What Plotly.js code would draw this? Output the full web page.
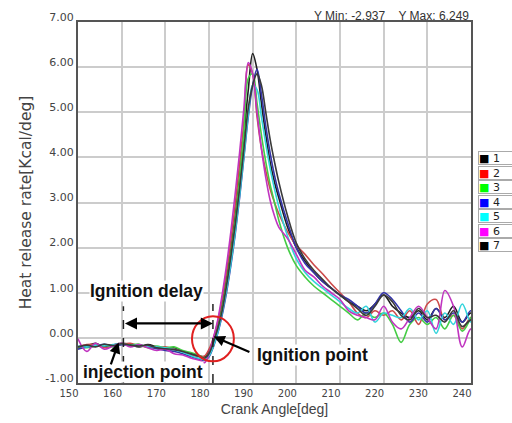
<!DOCTYPE html>
<html>
<head>
<meta charset="utf-8">
<script src="https://cdn.plot.ly/plotly-3.0.1.min.js"></script>
<style>html,body{margin:0;padding:0;background:#fff;}#chart{width:512px;height:423px;}</style>
</head>
<body>
<div id="chart"></div>
<script>
// Crank angle grid (deg)
const crankAngle = [150,152,154,156,158,160,162,164,166,168,170,172,174,176,178,
  179,180,181,182,183,184,185,186,187,188,189,190,191,192,193,194,195,196,
  198,200,202,204,206,208,210,212,214,216,218,220,222,224,226,228,230,232,234,236,238,240,242];

// Heat release rate [Kcal/deg] per run
const hrr1 = [-0.22,-0.18,-0.12,-0.2,-0.16,-0.12,-0.15,-0.2,-0.15,-0.2,-0.25,-0.22,-0.3,-0.35,-0.4,
  -0.42,-0.3,-0.05,0.3,0.75,1.3,1.95,2.7,3.55,4.5,5.5,6.3,5.95,5.2,4.5,3.9,3.45,3.1,
  2.45,2.0,1.7,1.45,1.25,1.1,0.95,0.8,0.7,0.6,0.75,0.95,0.7,0.55,0.45,0.6,0.4,0.65,0.45,0.7,0.35,0.55,0.4];
const hrr2 = [-0.2,-0.15,-0.15,-0.22,-0.18,-0.14,-0.12,-0.18,-0.2,-0.22,-0.2,-0.25,-0.3,-0.38,-0.42,
  -0.4,-0.25,0.0,0.35,0.85,1.45,2.15,2.95,3.85,4.8,6.05,5.85,4.9,4.2,3.7,3.3,3.0,2.75,
  2.35,2.05,1.85,1.62,1.42,1.2,1.0,0.8,0.55,0.45,0.6,0.5,0.6,0.4,0.6,0.3,0.75,0.85,0.4,0.5,0.2,0.45,0.0];
const hrr3 = [-0.2,-0.22,-0.18,-0.15,-0.2,-0.14,-0.16,-0.14,-0.22,-0.18,-0.22,-0.2,-0.28,-0.33,-0.4,
  -0.45,-0.35,-0.1,0.2,0.65,1.2,1.85,2.6,3.5,4.55,5.75,5.85,5.2,4.5,3.9,3.4,3.0,2.6,
  2.0,1.6,1.35,1.15,1.0,0.85,0.7,0.55,0.4,0.55,0.45,0.55,0.3,-0.1,0.3,0.45,0.3,0.45,0.2,0.5,0.15,0.45,0.85];
const hrr4 = [-0.25,-0.2,-0.18,-0.14,-0.18,-0.15,-0.18,-0.17,-0.2,-0.24,-0.28,-0.3,-0.35,-0.42,-0.48,
  -0.5,-0.42,-0.2,0.1,0.5,1.0,1.6,2.3,3.1,4.0,4.9,5.6,5.95,5.4,4.7,4.1,3.6,3.2,
  2.55,2.0,1.65,1.45,1.25,1.1,0.95,0.85,0.7,0.55,0.75,1.0,0.85,0.6,0.35,0.55,0.35,0.65,0.4,0.55,0.35,0.6,0.25];
const hrr5 = [-0.18,-0.2,-0.16,-0.18,-0.15,-0.13,-0.17,-0.16,-0.19,-0.2,-0.22,-0.26,-0.32,-0.4,-0.46,
  -0.48,-0.4,-0.18,0.12,0.55,1.05,1.65,2.35,3.15,4.05,4.95,5.6,5.5,4.9,4.3,3.75,3.3,2.9,
  2.25,1.75,1.45,1.25,1.1,0.95,0.8,0.65,0.55,0.7,0.35,0.55,0.5,0.45,0.65,0.4,0.6,0.1,0.55,0.3,0.75,0.35,0.9];
const hrr6 = [-0.02,-0.3,-0.12,-0.25,-0.18,-0.12,-0.2,-0.15,-0.22,-0.28,-0.25,-0.35,-0.38,-0.45,-0.5,
  -0.55,-0.35,0.0,0.4,0.95,1.6,2.35,3.2,4.1,5.1,6.1,5.85,5.0,4.2,3.55,3.05,2.7,2.45,
  2.2,1.85,1.5,1.35,1.15,1.0,0.85,0.6,0.5,0.45,0.4,0.7,0.35,0.2,0.45,0.7,0.45,0.2,1.05,0.7,-0.2,0.2,-0.05];
const hrr7 = [-0.2,-0.16,-0.2,-0.14,-0.17,-0.13,-0.16,-0.18,-0.16,-0.22,-0.24,-0.26,-0.3,-0.36,-0.42,
  -0.45,-0.35,-0.1,0.2,0.6,1.15,1.8,2.5,3.3,4.2,5.1,5.6,5.85,5.6,5.0,4.4,3.9,3.45,
  2.7,2.1,1.75,1.5,1.3,1.1,0.95,0.8,0.65,0.5,0.7,0.95,0.8,0.5,0.4,0.65,0.45,0.5,0.35,0.6,0.25,0.4,0.3];

const seriesNames = ['1','2','3','4','5','6','7'];
const seriesData = [hrr1,hrr2,hrr3,hrr4,hrr5,hrr6,hrr7];
const lineColors = ['#1e1e1e','#cc4a4a','#44cc44','#3434a8','#33d4dc','#c034c0','#3a3a3a'];
const swatchColors = ['#000000','#ff0000','#00ff00','#0000ff','#00ffff','#ff00ff','#000000'];

const xTicks = [150,160,170,180,190,200,210,220,230,240];
const yTicks = [-1,0,1,2,3,4,5,6,7];

const yMinText = '-2.937';
const yMaxText = '6.249';
const injectionAngle = 160.4;
const ignitionAngle = 180.9;

const traces = seriesData.map((d,i) => ({
  x: crankAngle, y: d, type: 'scatter', mode: 'lines', name: seriesNames[i],
  line: {color: lineColors[i], width: 1.6, shape: 'spline', smoothing: 1},
  showlegend: false, hoverinfo: 'skip'
}));

// Legend drawn as boxed entries
const plotL = 78, plotR = 471, plotT = 21.5, plotB = 383;
const pxX = px => (px - plotL) / (plotR - plotL);
const pxY = py => (plotB - py) / (plotB - plotT);

const annotations = [];
seriesNames.forEach((n,i) => {
  annotations.push({
    xref: 'paper', yref: 'paper', x: pxX(478), y: pxY(158 + i*14.5),
    xanchor: 'left', yanchor: 'middle', showarrow: false, align: 'left',
    text: '<span style="color:' + swatchColors[i] + '">■</span> ' + n,
    font: {family: 'DejaVu Sans, Arial', size: 11, color: '#222'},
    bgcolor: '#ffffff', bordercolor: '#aaaaaa', borderwidth: 1, borderpad: 0,
    width: 40, height: 12
  });
});

annotations.push({
  xref: 'paper', yref: 'paper', x: 1, y: pxY(15), xanchor: 'right', yanchor: 'middle',
  showarrow: false, text: 'Y Min: ' + yMinText + '\u00a0\u00a0\u00a0\u00a0Y Max: ' + yMaxText,
  font: {family: 'Liberation Sans, Arial', size: 12, color: '#333'}
});

const boldFont = {family: 'Liberation Sans, Arial', size: 17.5, color: '#111', weight: 'bold'};
annotations.push({x: 165.8, y: 1.04, xref: 'x', yref: 'y', showarrow: false,
  text: '<b>Ignition delay</b>', font: boldFont, bgcolor: '#ffffff', borderpad: 0});
annotations.push({x: 164.9, y: -0.76, xref: 'x', yref: 'y', showarrow: false,
  text: '<b>injection point</b>', font: boldFont, bgcolor: '#ffffff', borderpad: 0});
annotations.push({x: 203.8, y: -0.38, xref: 'x', yref: 'y', showarrow: false,
  text: '<b>Ignition point</b>', font: boldFont, bgcolor: '#ffffff', borderpad: 0});
// double arrow for delay
annotations.push({x: ignitionAngle, y: 0.32, ax: injectionAngle, ay: 0.32,
  xref: 'x', yref: 'y', axref: 'x', ayref: 'y', text: '', showarrow: true,
  arrowhead: 2, startarrowhead: 2, arrowside: 'end+start', arrowsize: 1.1, startarrowsize: 1.1,
  arrowwidth: 2.2, arrowcolor: '#000'});
// injection arrow
annotations.push({x: 159.3, y: -0.1, ax: 157.4, ay: -0.62,
  xref: 'x', yref: 'y', axref: 'x', ayref: 'y', text: '', showarrow: true,
  arrowhead: 2, arrowsize: 1, arrowwidth: 2.2, arrowcolor: '#000'});
// ignition arrow
annotations.push({x: ignitionAngle + 0.2, y: 0.03, ax: 189.6, ay: -0.33,
  xref: 'x', yref: 'y', axref: 'x', ayref: 'y', text: '', showarrow: true,
  arrowhead: 2, arrowsize: 1, arrowwidth: 2.2, arrowcolor: '#000'});

const shapes = [
  {type: 'line', xref: 'x', yref: 'y', x0: injectionAngle, x1: injectionAngle, y0: -1, y1: 0.7,
   line: {color: '#222', width: 1.5, dash: 'dash'}},
  {type: 'line', xref: 'x', yref: 'y', x0: ignitionAngle, x1: ignitionAngle, y0: -1, y1: 0.75,
   line: {color: '#222', width: 1.5, dash: 'dash'}},
  {type: 'circle', xref: 'x', yref: 'y', x0: ignitionAngle - 4.8, x1: ignitionAngle + 4.8, y0: -0.52, y1: 0.48,
   line: {color: '#e02020', width: 2}}
];

const layout = {
  width: 512, height: 423,
  margin: {l: plotL, r: 512 - plotR, t: plotT, b: 423 - plotB, pad: 0},
  paper_bgcolor: '#ffffff', plot_bgcolor: '#ffffff',
  showlegend: false,
  xaxis: {
    range: [150, 240], tickvals: xTicks, ticktext: xTicks.map(String),
    showgrid: true, gridcolor: '#cccccc', gridwidth: 2, zeroline: false,
    showline: true, mirror: true, linecolor: '#555', linewidth: 2, ticks: '',
    ticklabelshift: -9,
    tickfont: {family: 'DejaVu Sans, Arial', size: 10, color: '#444'},
    title: {text: 'Crank Angle[deg]', font: {family: 'Liberation Sans, Arial', size: 14, color: '#444'}, standoff: 6}
  },
  yaxis: {
    range: [-1, 7], tickvals: yTicks, ticktext: yTicks.map(v => v.toFixed(2)),
    showgrid: true, gridcolor: '#cccccc', gridwidth: 2, zeroline: false,
    showline: true, mirror: true, linecolor: '#555', linewidth: 2, ticks: '',
    ticklabelshift: -5,
    tickfont: {family: 'DejaVu Sans, Arial', size: 11, color: '#444'},
    title: {text: 'Heat release rate[Kcal/deg]', font: {family: 'DejaVu Sans, Arial', size: 15.5, color: '#444'}, standoff: 10}
  },
  annotations: annotations,
  shapes: shapes
};

Plotly.newPlot('chart', traces, layout, {staticPlot: true, displayModeBar: false});
</script>
</body>
</html>
